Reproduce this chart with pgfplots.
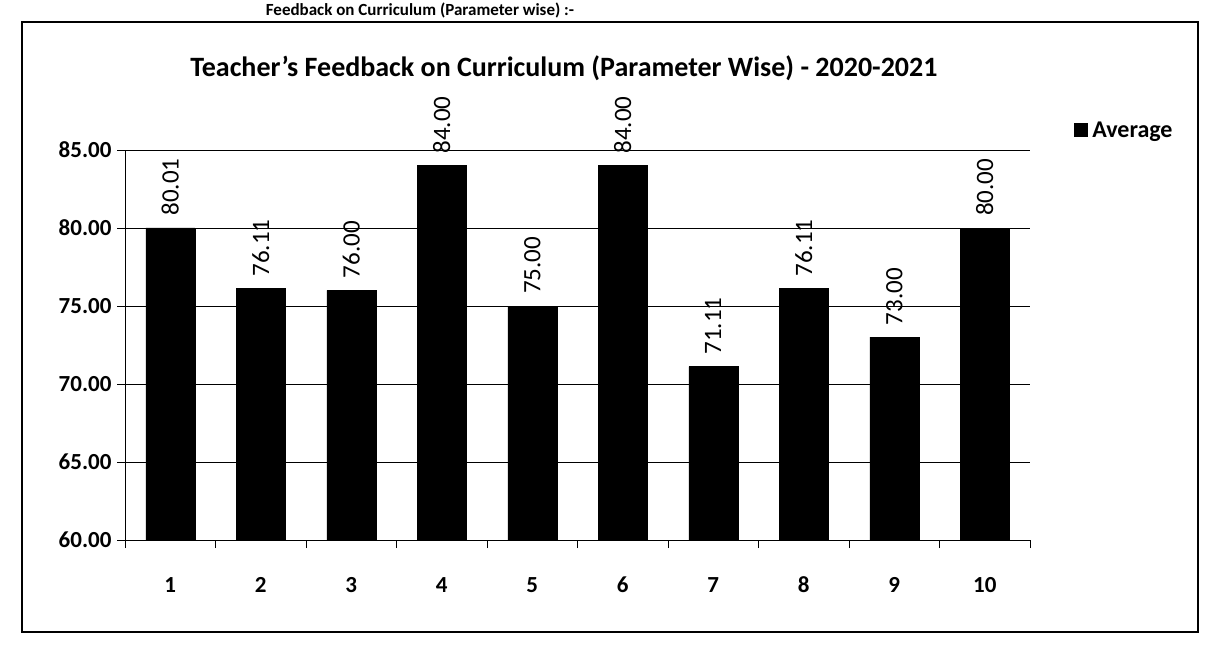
\documentclass[border=0pt]{standalone}
\usepackage{fontspec}
\setmainfont{Carlito}
\usepackage{pgfplots}
\pgfplotsset{compat=1.18}
\begin{document}
\begin{tikzpicture}[x=1pt,y=1pt]
\useasboundingbox (0,0) rectangle (1207,657);
\draw[line width=1.2pt] (22,25) rectangle (1198,635);
\node[font=\bfseries\fontsize{17}{20}\selectfont] at (420,647) {Feedback on Curriculum (Parameter wise) :-};
\node[font=\bfseries\fontsize{28}{32}\selectfont] at (564,589) {Teacher's Feedback on Curriculum (Parameter Wise) - 2020-2021};
\begin{axis}[
  at={(125pt,117pt)}, anchor=south west,
  width=905pt, height=390pt, scale only axis,
  xmin=0.5, xmax=10.5, ymin=60, ymax=85,
  axis x line*=bottom, axis y line*=left,
  axis line style={-, line width=1pt},
  ytick={60,65,...,85},
  ymajorgrids, grid style={black, line width=1pt},
  tick align=outside, major tick length=8pt,
  tick style={black, line width=1pt},
  xtick={0.5,1.5,...,10.5}, xticklabels={},
  extra x ticks={1,...,10},
  extra x tick labels={1,2,3,4,5,6,7,8,9,10},
  extra x tick style={major tick length=0pt, xticklabel style={yshift=-32pt, text height=17pt, text depth=0pt}},
  /pgf/number format/assume math mode=true,
  tick label style={font=\bfseries\fontsize{23}{26}\selectfont},
  yticklabel style={xshift=-2pt, /pgf/number format/.cd, fixed, fixed zerofill, precision=2},
  ybar, bar width=49pt,
  nodes near coords,
  nodes near coords style={rotate=90, anchor=west, inner xsep=12pt,
    font=\fontsize{25}{28}\selectfont,
    /pgf/number format/.cd, fixed, fixed zerofill, precision=2},
  legend style={at={(1.045,1.05)}, anchor=west, draw=none, fill=none,
    font=\bfseries\fontsize{24}{28}\selectfont},
  legend image code/.code={\fill[black] (0pt,-6pt) rectangle (13pt,7pt);},
]
\addplot[fill=black, draw=black] coordinates {
(1,80.01) (2,76.11) (3,76.00) (4,84.00) (5,75.00)
(6,84.00) (7,71.11) (8,76.11) (9,73.00) (10,80.00)};
\addlegendentry{\hspace{3pt}Average}
\end{axis}
\end{tikzpicture}
\end{document}
